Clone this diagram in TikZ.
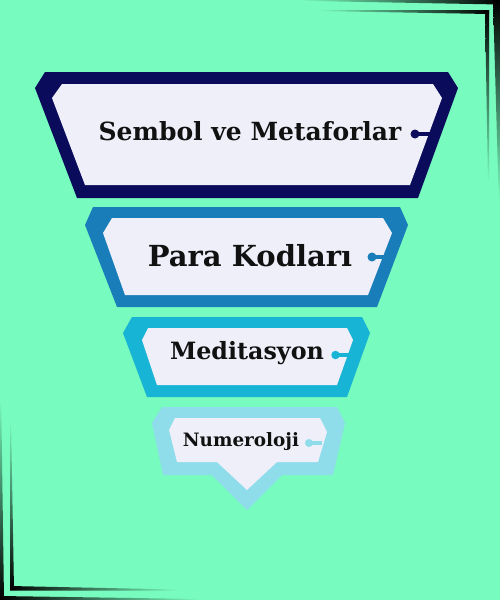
\documentclass[tikz,border=0pt]{standalone}
\usepackage{fontspec}
\setmainfont{DejaVu Serif}
\definecolor{bg}{RGB}{120,251,190}
\definecolor{navy}{RGB}{11,11,92}
\definecolor{steel}{RGB}{25,125,185}
\definecolor{cyanb}{RGB}{23,180,214}
\definecolor{lightb}{RGB}{143,220,235}
\definecolor{panel}{RGB}{239,239,250}
\definecolor{ink}{RGB}{17,17,17}
\tikzset{
  lbl/.style={text=ink, font=\bfseries, inner sep=0pt, anchor=center},
  dotc/.style={circle, inner sep=0pt, minimum size=#1},
  tick/.style={line width=3.5pt}
}
\begin{document}
\begin{tikzpicture}[x=1pt,y=-1pt]
\useasboundingbox (0,0) rectangle (500,600);
\fill[bg] (0,0) rectangle (500,600);
% corner decorations
\shade[left color=bg, right color=black] (300,0) -- (500,0) -- (500,4.5) -- (300,0.8) -- cycle;
\shade[top color=black, bottom color=bg] (493,0) -- (500,0) -- (500,200) -- (498.8,200) -- cycle;
\shade[left color=bg, right color=black] (318,10) -- (489,10) -- (489,14) -- (318,11) -- cycle;
\shade[top color=black, bottom color=bg] (485,10) -- (489,10) -- (489,182) -- (488,182) -- cycle;
\shade[top color=bg, bottom color=black] (0,400) -- (1.2,400) -- (4,600) -- (0,600) -- cycle;
\shade[left color=black, right color=bg] (0,596) -- (200,599) -- (200,600) -- (0,600) -- cycle;
\shade[top color=bg, bottom color=black] (10,420) -- (11,420) -- (14,590) -- (10,590) -- cycle;
\shade[left color=black, right color=bg] (10,586) -- (178,589.5) -- (178,590.5) -- (10,590.5) -- cycle;
% level 1
\fill[navy] (45,72) -- (448,72) -- (458,88) -- (418,198) -- (77,198) -- (35,88) -- cycle;
\fill[panel] (62,84) -- (433,84) -- (442,98) -- (410,185) -- (85,185) -- (52,98) -- cycle;
\node[lbl, font=\bfseries\fontsize{25}{30}\selectfont] (t1) at (250,131) {Sembol ve Metaforlar};
\node[dotc=9pt, fill=navy] (d1) at (415,134) {};
\coordinate (e1) at (432,134);
\draw[tick, navy] (d1.center) -- (e1);
% level 2
\fill[steel] (93,207) -- (400,207) -- (408,225) -- (377,307) -- (117,307) -- (85,225) -- cycle;
\fill[panel] (112,218) -- (383,218) -- (392,233) -- (368,295) -- (125,295) -- (103,233) -- cycle;
\node[lbl, font=\bfseries\fontsize{29}{34}\selectfont] (t2) at (250,256) {Para Kodları};
\node[dotc=9pt, fill=steel] (d2) at (372,257) {};
\coordinate (e2) at (386,257);
\draw[tick, steel] (d2.center) -- (e2);
% level 3
\fill[cyanb] (132,317) -- (362,317) -- (370,333) -- (347,397) -- (147,397) -- (123,333) -- cycle;
\fill[panel] (148,328) -- (347,328) -- (353,340) -- (337,385) -- (157,385) -- (142,340) -- cycle;
\node[lbl, font=\bfseries\fontsize{23.8}{28}\selectfont] (t3) at (247,353) {Meditasyon};
\node[dotc=8.5pt, fill=cyanb] (d3) at (335.5,355) {};
\coordinate (e3) at (349,355);
\draw[tick, cyanb] (d3.center) -- (e3);
% level 4
\fill[lightb] (162,407) -- (337,407) -- (345,423) -- (333,475) -- (282,475) -- (247,510) -- (212,475) -- (163,475) -- (152,423) -- cycle;
\fill[panel] (175,418) -- (320,418) -- (327,432) -- (318,462) -- (277,462) -- (247,490) -- (217,462) -- (177,462) -- (169,430) -- cycle;
\node[lbl, font=\bfseries\fontsize{18.4}{22}\selectfont] (t4) at (241,442) {Numeroloji};
\node[dotc=8pt, fill=lightb] (d4) at (309,443) {};
\coordinate (e4) at (322,443);
\draw[tick, lightb] (d4.center) -- (e4);
\end{tikzpicture}
\end{document}
